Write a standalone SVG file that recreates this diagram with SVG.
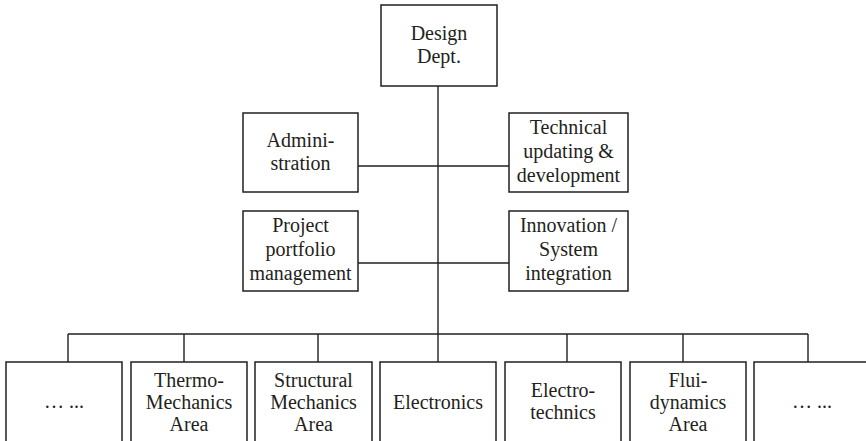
<svg xmlns="http://www.w3.org/2000/svg" width="866" height="441" viewBox="0 0 866 441">
<style>
.box{fill:#fff;stroke:#231f20;stroke-width:1.5}
.ln{fill:none;stroke:#231f20;stroke-width:1.4}
text{font-family:"Liberation Serif","Times New Roman",serif;font-size:20px;fill:#231f20;text-anchor:middle}
</style>
<rect width="866" height="441" fill="#fff"/>
<g id="connectors">
<path class="ln" d="M438 86V362"/>
<path class="ln" d="M358 166H509"/>
<path class="ln" d="M358 263H509"/>
<path class="ln" d="M68 334H808"/>
<path class="ln" d="M68 334V362M184 334V362M318 334V362M567 334V362M683 334V362M808 334V362"/>
</g>
<g id="design"><rect class="box" x="381" y="5" width="116" height="81"/><text x="439" y="40">Design</text><text x="439" y="63">Dept.</text></g>
<g id="admin"><rect class="box" x="243" y="113" width="115" height="79"/><text x="300.5" y="147">Admini-</text><text x="300.5" y="170">stration</text></g>
<g id="technical"><rect class="box" x="509" y="113" width="119" height="79"/><text x="568.5" y="134">Technical</text><text x="568.5" y="158">updating &amp;</text><text x="568.5" y="182">development</text></g>
<g id="project"><rect class="box" x="243" y="211" width="115" height="80"/><text x="300.5" y="232">Project</text><text x="300.5" y="256">portfolio</text><text x="300.5" y="280">management</text></g>
<g id="innovation"><rect class="box" x="509" y="211" width="119" height="80"/><text x="568.5" y="232">Innovation /</text><text x="568.5" y="256">System</text><text x="568.5" y="280">integration</text></g>
<g id="b1"><rect class="box" x="6" y="362" width="116" height="82"/><text x="64" y="408">… ...</text></g>
<g id="b2"><rect class="box" x="131" y="362" width="116" height="82"/><text x="189" y="387">Thermo-</text><text x="189" y="409">Mechanics</text><text x="189" y="431">Area</text></g>
<g id="b3"><rect class="box" x="255" y="362" width="117" height="82"/><text x="313.5" y="387">Structural</text><text x="313.5" y="409">Mechanics</text><text x="313.5" y="431">Area</text></g>
<g id="b4"><rect class="box" x="380" y="362" width="116" height="82"/><text x="438" y="409">Electronics</text></g>
<g id="b5"><rect class="box" x="505" y="362" width="116" height="82"/><text x="563" y="397">Electro-</text><text x="563" y="419">technics</text></g>
<g id="b6"><rect class="box" x="630" y="362" width="116" height="82"/><text x="688" y="387">Flui-</text><text x="688" y="409">dynamics</text><text x="688" y="431">Area</text></g>
<g id="b7"><rect class="box" x="754" y="362" width="116" height="82"/><text x="812" y="408">… ...</text></g>
</svg>
